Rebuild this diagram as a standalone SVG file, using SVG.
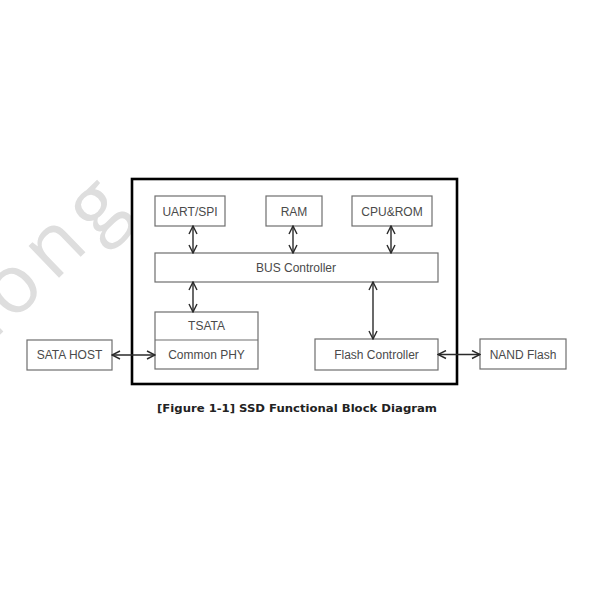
<svg xmlns="http://www.w3.org/2000/svg" width="600" height="600" viewBox="0 0 600 600">
  <style>
    .box { fill: #ffffff; stroke: #6e6e6e; stroke-width: 1.2; }
    .lbl { font-family: "Liberation Sans", Arial, sans-serif; font-size: 12px; fill: #4a4a4a; text-anchor: middle; }
    .conn { stroke: #2a2a2a; stroke-width: 1.4; fill: none; marker-start: url(#ah); marker-end: url(#ah); }
    .wm { font-family: "Open Sans", "Liberation Sans", sans-serif; font-size: 82px; font-weight: 500; fill: #dedede; letter-spacing: 9px; }
    .cap { font-family: "DejaVu Sans", Verdana, sans-serif; font-weight: bold; font-size: 10.5px; fill: #222; text-anchor: middle; }
  </style>
  <defs>
    <marker id="ah" viewBox="0 0 10 10" refX="9" refY="5" markerWidth="10" markerHeight="10" markerUnits="userSpaceOnUse" orient="auto-start-reverse">
      <path d="M1,1 L9,5 L1,9" fill="none" stroke="#2a2a2a" stroke-width="1.4"/>
    </marker>
  </defs>
  <rect width="600" height="600" fill="#ffffff"/>
  <text class="wm" transform="translate(-22,356) rotate(-44)">zong</text>

  <g id="ssd">
    <rect x="132" y="179" width="325" height="205" fill="#ffffff" stroke="#000000" stroke-width="2.6"/>
  </g>
  <g id="uart"><rect class="box" x="155" y="196" width="70" height="30"/><text class="lbl" x="190" y="215.5">UART/SPI</text></g>
  <g id="ram"><rect class="box" x="266" y="196" width="56" height="30"/><text class="lbl" x="294" y="215.5">RAM</text></g>
  <g id="cpu"><rect class="box" x="352" y="196" width="80" height="30"/><text class="lbl" x="392" y="215.5">CPU&amp;ROM</text></g>
  <g id="bus"><rect class="box" x="155" y="253" width="283" height="29"/><text class="lbl" x="296" y="271.5">BUS Controller</text></g>
  <g id="tsata">
    <rect class="box" x="155" y="312" width="103" height="57"/>
    <line x1="155" y1="340" x2="258" y2="340" stroke="#6e6e6e" stroke-width="1.2"/>
    <text class="lbl" x="206.5" y="330">TSATA</text>
    <text class="lbl" x="206.5" y="358.5">Common PHY</text>
  </g>
  <g id="satahost"><rect class="box" x="27" y="340" width="85" height="30"/><text class="lbl" x="69.5" y="359">SATA HOST</text></g>
  <g id="flash"><rect class="box" x="315" y="339" width="123" height="31"/><text class="lbl" x="376.5" y="358.5">Flash Controller</text></g>
  <g id="nand"><rect class="box" x="480" y="339" width="86" height="30"/><text class="lbl" x="523" y="358.5">NAND Flash</text></g>

  <g id="connectors">
    <line class="conn" x1="193" y1="226" x2="193" y2="253"/>
    <line class="conn" x1="293" y1="226" x2="293" y2="253"/>
    <line class="conn" x1="391" y1="226" x2="391" y2="253"/>
    <line class="conn" x1="193" y1="282" x2="193" y2="312"/>
    <line class="conn" x1="373" y1="282" x2="373" y2="339"/>
    <line class="conn" x1="112" y1="355" x2="155" y2="355"/>
    <line class="conn" x1="438" y1="354.5" x2="480" y2="354.5"/>
  </g>

  <text class="cap" x="297" y="412" textLength="280" lengthAdjust="spacingAndGlyphs">[Figure 1-1] SSD Functional Block Diagram</text>
</svg>
